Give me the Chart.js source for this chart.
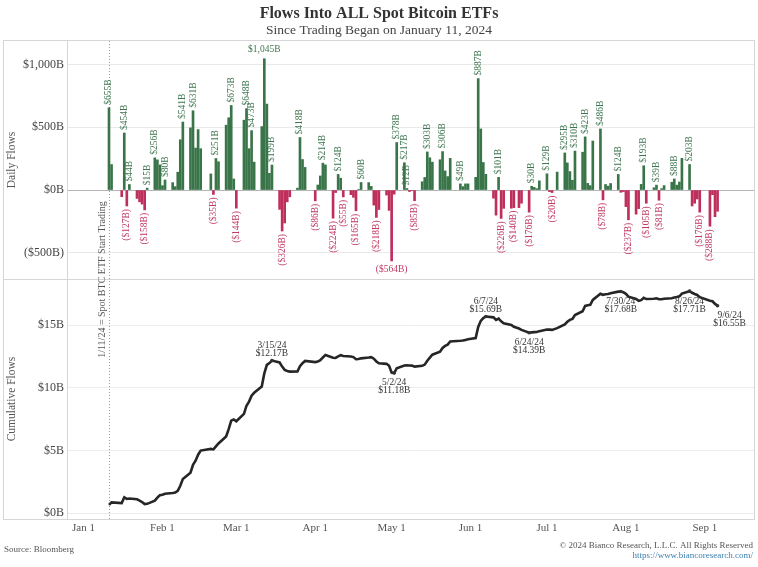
<!DOCTYPE html>
<html>
<head>
<meta charset="utf-8">
<script src="https://cdn.jsdelivr.net/npm/chart.js@4.4.1/dist/chart.umd.min.js"></script>
<style>
  html, body { margin: 0; padding: 0; background: #fff; }
  canvas { display: block; }
</style>
</head>
<body>
<canvas id="etfChart" width="758" height="567"></canvas>
<script>
// trading days 2024 (M/D)
const tradeDays = [
  '1/11','1/12','1/16','1/17','1/18','1/19','1/22','1/23','1/24','1/25','1/26','1/29','1/30','1/31',
  '2/1','2/2','2/5','2/6','2/7','2/8','2/9','2/12','2/13','2/14','2/15','2/16','2/20','2/21','2/22','2/23','2/26','2/27','2/28','2/29',
  '3/1','3/4','3/5','3/6','3/7','3/8','3/11','3/12','3/13','3/14','3/15','3/18','3/19','3/20','3/21','3/22','3/25','3/26','3/27','3/28',
  '4/1','4/2','4/3','4/4','4/5','4/8','4/9','4/10','4/11','4/12','4/15','4/16','4/17','4/18','4/19','4/22','4/23','4/24','4/25','4/26','4/29','4/30',
  '5/1','5/2','5/3','5/6','5/7','5/8','5/9','5/10','5/13','5/14','5/15','5/16','5/17','5/20','5/21','5/22','5/23','5/24','5/28','5/29','5/30','5/31',
  '6/3','6/4','6/5','6/6','6/7','6/10','6/11','6/12','6/13','6/14','6/17','6/18','6/20','6/21','6/24','6/25','6/26','6/27','6/28',
  '7/1','7/2','7/3','7/5','7/8','7/9','7/10','7/11','7/12','7/15','7/16','7/17','7/18','7/19','7/22','7/23','7/24','7/25','7/26','7/29','7/30','7/31',
  '8/1','8/2','8/5','8/6','8/7','8/8','8/9','8/12','8/13','8/14','8/15','8/16','8/19','8/20','8/21','8/22','8/23','8/26','8/27','8/28','8/29','8/30',
  '9/3','9/4','9/5','9/6'
];

// daily flows ($M, shown as "$xxxB" on the chart)
const dailyFlows = [
  655,203,-53,454,-127,44,-67,-94,-112,-158,15,256,240,200,
  35,80,59,27,142,400,541,495,631,334,481,329,128,-35,251,225,516,575,673,88,
  -144,556,648,329,473,222,505,1045,684,133,199,-154,-326,-262,-94,-54,15,418,243,180,
  -86,40,112,214,200,-224,-20,124,94,-55,-37,-58,-165,5,60,59,29,-120,-218,-155,-40,-162,
  -564,-33,378,217,12,-12,-5,-85,66,100,303,257,222,241,306,152,107,252,49,27,49,49,
  101,887,486,219,125,-65,-200,101,-226,-146,-145,-140,-140,-105,-176,30,21,11,73,
  129,-13,-20,143,295,216,147,78,310,301,423,53,35,390,486,-78,44,31,52,124,-18,-12,
  -132,-237,-192,-148,45,193,-105,18,39,-81,11,35,62,88,39,64,252,203,-127,-105,-71,-176,
  -288,-37,-212,-169
];

// cumulative flows ($B)
const cumFlows = [
  0.66,0.86,0.80,1.26,1.13,1.17,1.10,1.00,0.88,0.72,0.74,0.99,1.23,1.43,
  1.47,1.55,1.61,1.64,1.78,2.18,2.72,3.22,3.85,4.18,4.66,4.99,5.12,5.08,5.33,5.56,6.12,6.70,7.38,7.47,
  7.33,7.92,8.57,8.90,9.37,9.60,10.10,11.15,11.83,11.97,12.17,12.02,11.69,11.43,11.34,11.29,11.30,11.72,11.96,12.14,
  12.05,12.09,12.20,12.42,12.62,12.40,12.38,12.50,12.60,12.54,12.50,12.45,12.28,12.29,12.35,12.41,12.44,12.32,12.10,11.95,11.91,11.75,
  11.21,11.18,11.56,11.78,11.79,11.78,11.77,11.69,11.75,11.85,12.16,12.41,12.64,12.88,13.18,13.34,13.44,13.70,13.75,13.77,13.82,13.87,
  13.97,14.86,15.34,15.56,15.69,15.62,15.42,15.52,15.30,15.15,15.01,14.87,14.73,14.62,14.39,14.42,14.44,14.45,14.52,
  14.65,14.64,14.62,14.76,15.06,15.27,15.42,15.50,15.81,16.11,16.53,16.59,16.62,17.01,17.50,17.42,17.46,17.49,17.55,17.67,17.68,17.62,
  17.50,17.27,17.08,16.94,16.99,17.18,17.08,17.10,17.14,17.06,17.07,17.11,17.15,17.21,17.24,17.30,17.52,17.71,17.58,17.48,17.41,17.23,
  16.94,16.90,16.69,16.55
];

// bars that carry a value label
const labeledDays = [
  '1/11','1/17','1/19','1/26','1/29','2/2','2/9','2/13','2/22','2/28','3/5','3/7','3/12','3/15','3/26',
  '4/4','4/10','4/19','5/3','5/6','5/7','5/15','5/21','5/28','6/4','6/12','6/25','7/1','7/8','7/12',
  '7/16','7/22','7/29','8/8','8/13','8/20','8/26',
  '1/18','1/25','2/21','3/1','3/19','4/1','4/8','4/12','4/17','4/25','5/1','5/10','6/13','6/18','6/24',
  '7/3','7/23','8/2','8/9','8/14','8/30','9/3'
];
const flatLabelDays = ['3/12', '5/1'];

// annotated points on the cumulative line
const noteDays  = ['3/15', '5/2', '6/7', '6/24', '7/30', '8/26', '9/6'];
const noteBelow = [false, true, false, true, true, true, true];

const monthTicks  = [0, 31, 60, 91, 121, 152, 182, 213, 244];
const monthLabels = ['Jan 1', 'Feb 1', 'Mar 1', 'Apr 1', 'May 1', 'Jun 1', 'Jul 1', 'Aug 1', 'Sep 1'];
const flowTicks = [-500, 0, 500, 1000];
const cumTicks  = [0, 5, 10, 15];
const startDay  = '1/11';

// colours / fonts
const GREEN = '#3a7549', RED = '#bf2f5c';
const GREEN_TXT = '#3f7650', RED_TXT = '#c03a62';
const SERIF = '"Liberation Serif", "DejaVu Serif", serif';

// 'M/D' -> day of year (Jan 1 = 0)
const dayNum = function(md) {
	let p = md.split('/');
	return monthTicks[+p[0] - 1] + (+p[1]) - 1;
};

const fmtFlow = function(v) {
	let s = '$' + Math.abs(v).toLocaleString('en-US') + 'B';
	return v < 0 ? '(' + s + ')' : s;
};

// frame, title, footer, start-of-trading marker
const framePlugin = {
	id: 'frame',
	beforeDatasetsDraw(chart) {
		const {ctx, chartArea, scales: {x, yFlow, yCum}} = chart;
		let split = Math.round(Math.min(yFlow.bottom, yCum.bottom)) + 0.5;
		ctx.save();
		ctx.strokeStyle = '#d6d6d6';
		ctx.lineWidth = 1;
		ctx.strokeRect(3.5, 40.5, 751, chartArea.bottom - 40);
		ctx.beginPath();
		ctx.moveTo(chartArea.left - 0.5, 40);
		ctx.lineTo(chartArea.left - 0.5, chartArea.bottom);
		ctx.moveTo(3, split);
		ctx.lineTo(755, split);
		ctx.stroke();

		// dotted start line
		let sx = Math.round(x.getPixelForValue(dayNum(startDay))) + 0.5;
		ctx.strokeStyle = '#9a9a9a';
		ctx.setLineDash([1, 2]);
		ctx.beginPath();
		ctx.moveTo(sx, chartArea.top);
		ctx.lineTo(sx, chartArea.bottom);
		ctx.stroke();
		ctx.setLineDash([]);

		ctx.translate(sx - 7, split);
		ctx.rotate(-Math.PI / 2);
		ctx.font = '10px ' + SERIF;
		ctx.fillStyle = '#555';
		ctx.textAlign = 'center';
		ctx.textBaseline = 'middle';
		ctx.fillText('1/11/24 = Spot BTC ETF Start Trading', 0, 0);
		ctx.restore();
	},
	afterDraw(chart) {
		const ctx = chart.ctx;
		ctx.save();
		ctx.textAlign = 'center';
		ctx.textBaseline = 'middle';
		ctx.fillStyle = '#333';
		ctx.font = 'bold 16px ' + SERIF;
		ctx.fillText('Flows Into ALL Spot Bitcoin ETFs', 379, 14);
		ctx.font = '13.5px ' + SERIF;
		ctx.fillStyle = '#444';
		ctx.fillText('Since Trading Began on January 11, 2024', 379, 30);

		ctx.font = '9px ' + SERIF;
		ctx.fillStyle = '#555';
		ctx.textAlign = 'left';
		ctx.fillText('Source: Bloomberg', 4, 550);
		ctx.textAlign = 'right';
		ctx.fillText('\u00A9 2024 Bianco Research, L.L.C. All Rights Reserved', 753, 546);
		ctx.fillStyle = '#3d7fae';
		ctx.fillText('https://www.biancoresearch.com/', 753, 556);
		ctx.restore();
	}
};

// value labels on bars
const barLabelPlugin = {
	id: 'barLabels',
	afterDatasetsDraw(chart) {
		const {ctx, scales: {x, yFlow}} = chart;
		ctx.save();
		ctx.font = '9.5px ' + SERIF;
		labeledDays.forEach(function(d) {
			let i = tradeDays.indexOf(d);
			let v = dailyFlows[i];
			let px = x.getPixelForValue(dayNum(d));
			let py = yFlow.getPixelForValue(v);
			let txt = fmtFlow(v);
			ctx.fillStyle = v < 0 ? RED_TXT : GREEN_TXT;
			if (flatLabelDays.includes(d)) {
				ctx.textAlign = 'center';
				ctx.textBaseline = v < 0 ? 'top' : 'bottom';
				ctx.fillText(txt, px, v < 0 ? py + 4 : py - 4);
			} else {
				ctx.save();
				ctx.translate(px, v < 0 ? py + 3 : py - 3);
				ctx.rotate(-Math.PI / 2);
				ctx.textAlign = v < 0 ? 'right' : 'left';
				ctx.textBaseline = 'middle';
				ctx.fillText(txt, 0, 0);
				ctx.restore();
			}
		});
		ctx.restore();
	}
};

// date / level notes on the cumulative line
const notePlugin = {
	id: 'notes',
	afterDatasetsDraw(chart) {
		const {ctx, scales: {x, yCum}} = chart;
		ctx.save();
		ctx.font = '9.5px ' + SERIF;
		ctx.fillStyle = '#333';
		ctx.textAlign = 'center';
		ctx.textBaseline = 'middle';
		noteDays.forEach(function(d, k) {
			let v = cumFlows[tradeDays.indexOf(d)];
			let px = x.getPixelForValue(dayNum(d));
			let py = yCum.getPixelForValue(v);
			ctx.beginPath();
			ctx.arc(px, py, 1.8, 0, Math.PI * 2);
			ctx.fill();
			let tx = (k === noteDays.length - 1) ? px + 12 : px;
			let l1 = d + '/24', l2 = '$' + v.toFixed(2) + 'B';
			if (noteBelow[k]) {
				ctx.fillText(l1, tx, py + 10);
				ctx.fillText(l2, tx, py + 18);
			} else {
				ctx.fillText(l1, tx, py - 15);
				ctx.fillText(l2, tx, py - 7);
			}
		});
		ctx.restore();
	}
};

const tickFont = { family: SERIF, size: 12 };

new Chart(document.getElementById('etfChart'), {
	type: 'bar',
	data: {
		datasets: [{
			type: 'bar',
			yAxisID: 'yFlow',
			data: tradeDays.map((d, i) => ({ x: dayNum(d), y: dailyFlows[i] })),
			backgroundColor: dailyFlows.map(v => v < 0 ? RED : GREEN),
			barThickness: 2,
			order: 2
		}, {
			type: 'line',
			yAxisID: 'yCum',
			data: tradeDays.map((d, i) => ({ x: dayNum(d), y: cumFlows[i] })),
			borderColor: '#262626',
			borderWidth: 2.6,
			pointRadius: 0,
			tension: 0,
			order: 1
		}]
	},
	options: {
		responsive: false,
		animation: false,
		layout: { padding: { top: 41, left: 3, right: 3, bottom: 0 } },
		plugins: {
			legend: { display: false },
			tooltip: { enabled: false }
		},
		scales: {
			x: {
				type: 'linear',
				offset: false,
				min: -6.1,
				max: 263.7,
				grid: { display: false, drawTicks: false, offset: false },
				border: { display: false },
				afterBuildTicks: s => { s.ticks = monthTicks.map(v => ({ value: v })); },
				afterFit: s => { s.height = 48; },
				ticks: {
					autoSkip: false,
					maxRotation: 0,
					padding: 3,
					color: '#555',
					font: { family: SERIF, size: 11 },
					callback: v => monthLabels[monthTicks.indexOf(v)]
				}
			},
			// 하단 패널 (먼저 정의해야 아래쪽에 배치됨)
			yCum: {
				type: 'linear',
				position: 'left',
				stack: 'panels',
				stackWeight: 240,
				min: -0.47,
				max: 18.68,
				afterBuildTicks: s => { s.ticks = cumTicks.map(v => ({ value: v })); },
				afterFit: s => { s.width = 65; },
				border: { display: false },
				grid: { drawTicks: false, color: '#ececec' },
				ticks: { color: '#444', font: tickFont, padding: 4, callback: v => '$' + v + 'B' },
				title: { display: true, text: 'Cumulative Flows', color: '#555', font: { family: SERIF, size: 11.5 }, padding: 2 }
			},
			yFlow: {
				type: 'linear',
				position: 'left',
				stack: 'panels',
				stackWeight: 238,
				min: -708,
				max: 1186,
				afterBuildTicks: s => { s.ticks = flowTicks.map(v => ({ value: v })); },
				afterFit: s => { s.width = 65; },
				border: { display: false },
				grid: {
					drawTicks: false,
					color: c => c.tick && c.tick.value === 0 ? '#b5b5b5' : '#e9e9e9'
				},
				ticks: { color: '#444', font: tickFont, padding: 4, callback: v => fmtFlow(v) },
				title: { display: true, text: 'Daily Flows', color: '#555', font: { family: SERIF, size: 11.5 }, padding: 2 }
			}
		}
	},
	plugins: [framePlugin, barLabelPlugin, notePlugin]
});
</script>
</body>
</html>
